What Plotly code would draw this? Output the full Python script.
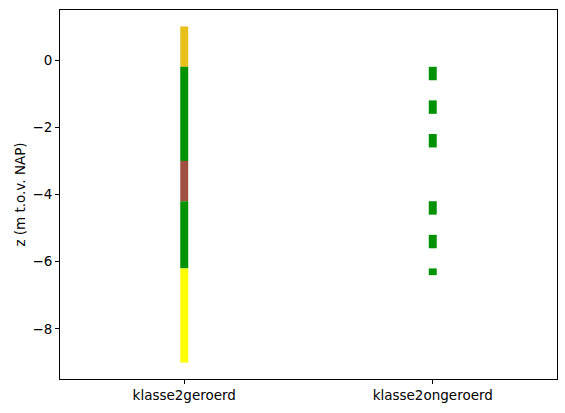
import plotly.graph_objects as go

# boringen / monsters per klasse
categories = ["klasse2geroerd", "klasse2ongeroerd"]

# laag: klasse, bovenkant, onderkant (m t.o.v. NAP), grondsoort
seg_klasse = ["klasse2geroerd"] * 5 + ["klasse2ongeroerd"] * 6
seg_top = [1.0, -0.2, -3.0, -4.2, -6.2,
           -0.2, -1.2, -2.2, -4.2, -5.2, -6.2]
seg_bottom = [-0.2, -3.0, -4.2, -6.2, -9.0,
              -0.6, -1.6, -2.6, -4.6, -5.6, -6.4]
seg_soort = ["ophoging", "klei", "veen", "klei", "zand",
             "klei", "klei", "klei", "klei", "klei", "klei"]

ytick_vals = [0, -2, -4, -6, -8]
ytick_text = ["0", "\u22122", "\u22124", "\u22126", "\u22128"]

kleuren = {"ophoging": "#e8c01c", "klei": "#009200",
           "veen": "#a05040", "zand": "#ffff00"}

fig = go.Figure()
for k, t, b, s in zip(seg_klasse, seg_top, seg_bottom, seg_soort):
    fig.add_trace(go.Bar(x=[k], y=[t - b], base=[b], width=0.032,
                         marker_color=kleuren[s], marker_line_width=0,
                         showlegend=False))

fig.update_layout(
    width=565, height=413,
    margin=dict(l=60, r=8, t=10, b=34),
    plot_bgcolor="white", paper_bgcolor="white",
    barmode="overlay",
    font=dict(family="DejaVu Sans", size=13.5, color="black"),
)
fig.update_xaxes(type="category", categoryorder="array", categoryarray=categories,
                 range=[-0.5, 1.5], showline=True, linecolor="black", linewidth=1,
                 mirror=True, ticks="outside", ticklen=4, tickcolor="black",
                 showgrid=False, zeroline=False,
                 tickfont=dict(size=13.5))
fig.update_yaxes(range=[-9.49, 1.49], tickvals=ytick_vals, ticktext=ytick_text,
                 showline=True, linecolor="black", linewidth=1, mirror=True,
                 ticks="outside", ticklen=4, tickcolor="black",
                 showgrid=False, zeroline=False,
                 tickfont=dict(size=13.5),
                 title=dict(text="z (m t.o.v. NAP)", standoff=3,
                            font=dict(size=13.5)))

fig.write_html("out.html", config={"displayModeBar": False},
               post_script="document.body.style.margin='0';")
